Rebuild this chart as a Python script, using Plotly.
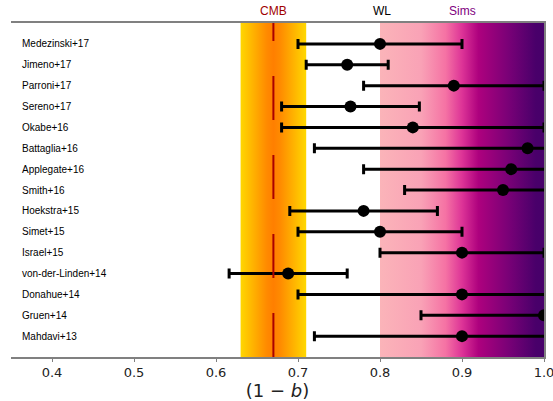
import plotly.graph_objects as go

names = ["Medezinski+17", "Jimeno+17", "Parroni+17", "Sereno+17", "Okabe+16",
         "Battaglia+16", "Applegate+16", "Smith+16", "Hoekstra+15", "Simet+15",
         "Israel+15", "von-der-Linden+14", "Donahue+14", "Gruen+14", "Mahdavi+13"]
values = [0.80, 0.76, 0.89, 0.764, 0.84, 0.98, 0.96, 0.95, 0.78, 0.80, 0.90, 0.688, 0.90, 1.00, 0.90]
err_lo = [0.10, 0.05, 0.11, 0.084, 0.16, 0.26, 0.18, 0.12, 0.09, 0.10, 0.10, 0.072, 0.20, 0.15, 0.18]
err_hi = [0.10, 0.05, 0.11, 0.084, 0.16, 0.26, 0.18, 0.12, 0.09, 0.10, 0.10, 0.072, 0.20, 0.15, 0.18]

cmb_center = 0.67
cmb_band = [0.63, 0.71]
sims_band = [0.80, 1.00]
band_labels = ["CMB", "WL", "Sims"]
band_label_x = [0.67, 0.803, 0.90]
band_label_colors = ["#a00000", "#000000", "#800080"]

ypos = list(range(len(names)))
Y0, Y1 = -1.0, 15.0

fig = go.Figure()

# CMB band gradient
fig.add_trace(go.Scatter(
    x=[cmb_band[0], cmb_band[1], cmb_band[1], cmb_band[0], cmb_band[0]],
    y=[Y0 - 1, Y0 - 1, Y1 + 1, Y1 + 1, Y0 - 1],
    mode="none", fill="toself", hoverinfo="skip", showlegend=False,
    fillgradient=dict(type="horizontal",
                      colorscale=[[0, "#ffd700"], [0.4, "#ff8a00"], [0.5, "#ff7f00"],
                                  [0.6, "#ff8a00"], [1, "#ffd800"]]),
))

# Sims band gradient
fig.add_trace(go.Scatter(
    x=[sims_band[0], sims_band[1], sims_band[1], sims_band[0], sims_band[0]],
    y=[Y0 - 1, Y0 - 1, Y1 + 1, Y1 + 1, Y0 - 1],
    mode="none", fill="toself", hoverinfo="skip", showlegend=False,
    fillgradient=dict(type="horizontal",
                      colorscale=[[0, "#fbb4b9"], [0.25, "#f9a2b6"], [0.4, "#f572a4"],
                                  [0.5, "#dd3497"], [0.6, "#ae017e"], [0.78, "#7a0177"],
                                  [0.95, "#49006a"], [1, "#47006a"]]),
))

# Data points with asymmetric error bars
fig.add_trace(go.Scatter(
    x=values, y=ypos, mode="markers",
    marker=dict(size=12, color="black"),
    error_x=dict(type="data", symmetric=False, array=err_hi, arrayminus=err_lo,
                 color="black", thickness=3, width=5),
    showlegend=False, hoverinfo="skip",
))

# CMB dashed line
fig.add_shape(type="line", xref="x", yref="paper", x0=cmb_center, x1=cmb_center,
              y0=0, y1=1, line=dict(color="#aa0000", width=2, dash="44px,35px"))

# Row labels
for n, y in zip(names, ypos):
    fig.add_annotation(x=0.3606, y=y, xref="x", yref="y", text=n, showarrow=False,
                       xanchor="left", yanchor="middle",
                       font=dict(family="Liberation Sans, Arial", size=10, color="black"))

# Band labels above plot
for t, x, c in zip(band_labels, band_label_x, band_label_colors):
    fig.add_annotation(x=x, y=1, xref="x", yref="paper", text=t, showarrow=False,
                       xanchor="center", yanchor="bottom", yshift=3,
                       font=dict(family="Liberation Sans, Arial", size=12, color=c))

fig.update_layout(
    width=553, height=401,
    margin=dict(l=11, r=9, t=23, b=44),
    paper_bgcolor="white", plot_bgcolor="white",
    xaxis=dict(range=[0.35, 1.0], tickvals=[0.4, 0.5, 0.6, 0.7, 0.8, 0.9, 1.0],
               ticktext=["0.4", "0.5", "0.6", "0.7", "0.8", "0.9", "1.0"],
               automargin=False, ticklabeloverflow="allow",
               showgrid=False, zeroline=False, showline=True, mirror=True,
               linecolor="#808080", linewidth=1.5, ticks="outside", ticklen=3,
               tickcolor="#808080", tickfont=dict(family="DejaVu Sans", size=13, color="#222"),
               title=dict(text="(1 − <i>b</i>)", standoff=5,
                          font=dict(family="DejaVu Sans", size=18, color="#222"))),
    yaxis=dict(range=[Y1, Y0], showgrid=False, zeroline=False, showticklabels=False,
               automargin=False,
               ticks="", showline=True, side="right", linecolor="#808080", linewidth=1.5),
)

fig.write_html("out.html")
